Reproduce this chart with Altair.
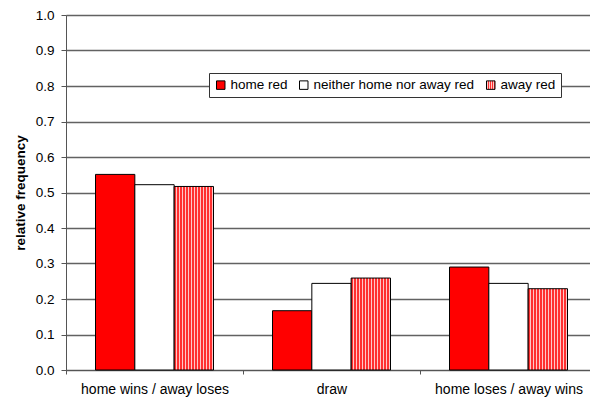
import altair as alt
import pandas as pd

# Outcome categories and bar series
outcomes = ["home wins / away loses", "draw", "home loses / away wins"]
series = ["home red", "neither home nor away red", "away red"]

# Relative frequency per outcome, one list per series
home_red = [0.551, 0.167, 0.290]
neither_red = [0.522, 0.244, 0.244]
away_red = [0.517, 0.259, 0.229]

rows = []
for i, outcome in enumerate(outcomes):
    for name, vals in zip(series, [home_red, neither_red, away_red]):
        rows.append({"outcome": outcome, "series": name, "freq": vals[i]})
df = pd.DataFrame(rows)

# Vertical red / pink stripes as a hard-stop linear gradient
n_stripes = 13
stops = []
for k in range(n_stripes):
    a = k / n_stripes
    m = (k + 0.5) / n_stripes
    b = (k + 1) / n_stripes
    stops += [(a, "#ff3030"), (m, "#ff3030"), (m, "#ffc8c8"), (b, "#ffc8c8")]
stops_js = ", ".join("{offset: %.5f, color: '%s'}" % (o, c) for o, c in stops)
stripe_expr = "{gradient: 'linear', x1: 0, y1: 0, x2: 1, y2: 0, stops: [" + stops_js + "]}"

FONT = "Liberation Sans"

bars = alt.Chart(df).mark_bar(stroke="black", strokeWidth=1).encode(
    x=alt.X(
        "outcome:N",
        sort=outcomes,
        scale=alt.Scale(range=[0, 531], paddingInner=0, paddingOuter=0),
        axis=alt.Axis(
            title=None,
            labelAngle=0,
            tickBand="extent",
            tickSize=4,
            labelPadding=8,
            labelFontSize=14,
            labelColor="black",
            domainColor="#555555",
            tickColor="#555555",
            grid=False,
        ),
    ),
    xOffset=alt.XOffset(
        "series:N",
        sort=series,
        scale=alt.Scale(paddingInner=0, paddingOuter=0.75),
    ),
    y=alt.Y(
        "freq:Q",
        scale=alt.Scale(domain=[0, 1], nice=False),
        axis=alt.Axis(
            title="relative frequency",
            values=[i / 10 for i in range(11)],
            format=".1f",
            tickSize=5,
            labelPadding=7,
            labelFontSize=13.5,
            labelColor="black",
            titleFontSize=13.5,
            titleFontWeight="bold",
            titleColor="black",
            titlePadding=8,
            domainColor="#555555",
            tickColor="#555555",
            gridColor="#626262",
            gridWidth=1.3,
        ),
    ),
    fill=alt.Fill(
        "series:N",
        sort=series,
        scale=alt.Scale(
            domain=series,
            range=["#ff0000", "#ffffff", alt.ExprRef(stripe_expr)],
        ),
        legend=alt.Legend(
            title=None,
            orient="none",
            direction="horizontal",
            legendX=143,
            legendY=58,
            fillColor="white",
            strokeColor="#333333",
            padding=5,
            symbolType="square",
            symbolSize=72,
            symbolStrokeColor="black",
            symbolStrokeWidth=1,
            labelFontSize=13.5,
            labelLimit=400,
            labelColor="black",
            labelOffset=3,
            columnPadding=9,
        ),
    ),
).properties(
    width=524,
    height=355,
    background="white",
    padding={"left": 66, "top": 15, "right": 0, "bottom": 35},
    autosize=alt.AutoSizeParams(type="none"),
).configure_view(
    fill="#e2e2e2",
    stroke=None,
).configure(
    font=FONT,
)

chart = bars
chart.save("out.html", embed_options={"renderer": "svg", "actions": False})
